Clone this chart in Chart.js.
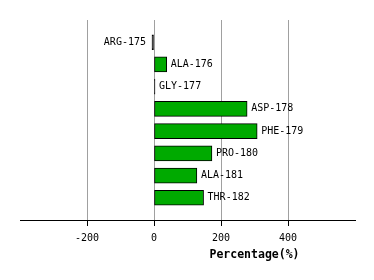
<!DOCTYPE html>
<html>
<head>
<meta charset="utf-8">
<script src="https://cdn.jsdelivr.net/npm/chart.js@4/dist/chart.umd.min.js"></script>
<style>
  html, body { margin: 0; padding: 0; background: #fff; }
  #wrap { width: 374px; height: 280px; }
</style>
</head>
<body>
<div id="wrap"><canvas id="chart" width="374" height="280"></canvas></div>
<script>
// residues, top to bottom
const residues = ['ARG-175', 'ALA-176', 'GLY-177', 'ASP-178', 'PHE-179', 'PRO-180', 'ALA-181', 'THR-182'];
const percentages = [-6, 38, 3, 278, 308, 173, 128, 148];
const xTicks = [-200, 0, 200, 400];

// empty slot above and below so the rows sit like the original
const labels = [''].concat(residues, ['']);
const values = [null].concat(percentages, [null]);

const monoFont = '"DejaVu Sans Mono", monospace';

// residue names next to the bar ends
const barLabels = {
    id: 'barLabels',
    afterDatasetsDraw(chart) {
        const ctx = chart.ctx;
        const meta = chart.getDatasetMeta(0);
        ctx.save();
        ctx.font = '10px ' + monoFont;
        ctx.fillStyle = '#000';
        ctx.textBaseline = 'middle';
        meta.data.forEach((bar, i) => {
            const v = values[i];
            if (v === null) return;
            if (v < 0) {
                ctx.textAlign = 'right';
                ctx.fillText(labels[i], bar.x - 6, bar.y);
            } else {
                ctx.textAlign = 'left';
                ctx.fillText(labels[i], bar.x + 4, bar.y);
            }
        });
        ctx.restore();
    }
};

// axis title, set off to the right like the original
const axisTitle = {
    id: 'axisTitle',
    afterDraw(chart) {
        const a = chart.chartArea;
        const ctx = chart.ctx;
        ctx.save();
        ctx.font = 'bold 11.5px ' + monoFont;
        ctx.fillStyle = '#000';
        ctx.textAlign = 'center';
        ctx.textBaseline = 'middle';
        ctx.fillText('Percentage(%)', a.left + (a.right - a.left) * 0.7, a.bottom + 35);
        ctx.restore();
    }
};

new Chart(document.getElementById('chart'), {
    type: 'bar',
    data: {
        labels: labels,
        datasets: [{
            data: values,
            // very thin bars only show their outline
            backgroundColor: c => Math.abs(c.raw) < 10 ? '#000' : '#00aa00',
            borderColor: '#000',
            borderWidth: 1,
            borderSkipped: false,
            barThickness: 15
        }]
    },
    options: {
        indexAxis: 'y',
        responsive: false,
        animation: false,
        devicePixelRatio: 1,
        layout: { padding: { left: 20, right: 19, top: 20, bottom: 0 } },
        plugins: {
            legend: { display: false },
            tooltip: { enabled: false }
        },
        scales: {
            y: {
                display: false,
                offset: false
            },
            x: {
                min: -400,
                max: 600,
                afterBuildTicks(scale) {
                    scale.ticks = [-400].concat(xTicks, [600]).map(v => ({ value: v }));
                },
                afterFit(scale) { scale.height = 60; },
                border: { display: true, color: '#000', width: 1 },
                grid: {
                    color: c => xTicks.includes(c.tick.value) ? '#a0a0a0' : 'rgba(0,0,0,0)',
                    tickColor: c => xTicks.includes(c.tick.value) ? '#000' : 'rgba(0,0,0,0)',
                    tickLength: 6,
                    lineWidth: 1
                },
                ticks: {
                    autoSkip: false,
                    maxRotation: 0,
                    padding: 6,
                    color: '#000',
                    font: { family: monoFont, size: 10 },
                    callback: v => xTicks.includes(v) ? String(v) : ''
                }
            }
        }
    },
    plugins: [barLabels, axisTitle]
});
</script>
</body>
</html>
